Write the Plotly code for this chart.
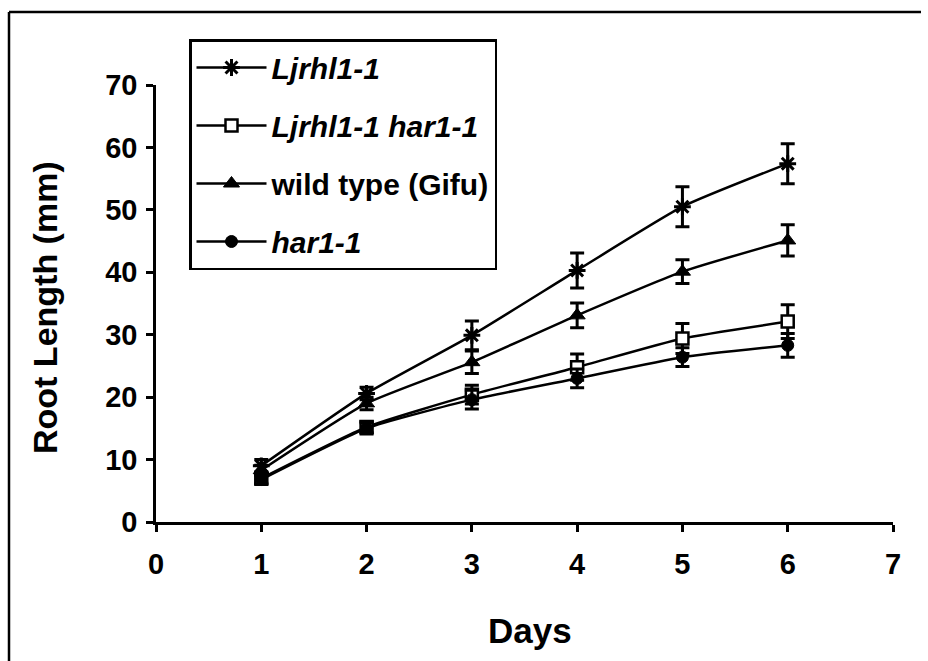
import plotly.graph_objects as go

days = [1, 2, 3, 4, 5, 6]
x_ticks = [0, 1, 2, 3, 4, 5, 6, 7]
y_ticks = [0, 10, 20, 30, 40, 50, 60, 70]

ljrhl = [9.0, 20.6, 29.9, 40.3, 50.5, 57.4]
ljrhl_err = [1.0, 1.0, 2.3, 2.8, 3.2, 3.2]
double = [7.0, 15.2, 20.4, 24.8, 29.4, 32.1]
double_err = [0.8, 0.9, 1.5, 2.1, 2.4, 2.7]
wt = [8.3, 19.0, 25.6, 33.1, 40.1, 45.1]
wt_err = [0.8, 1.0, 1.8, 2.0, 1.9, 2.5]
har = [6.8, 15.0, 19.6, 23.0, 26.4, 28.3]
har_err = [0.8, 0.9, 1.5, 1.5, 1.5, 1.9]

names = ["<i>Ljrhl1-1</i>", "<i>Ljrhl1-1 har1-1</i>", "wild type (Gifu)", "<i>har1-1</i>"]
series = [ljrhl, double, wt, har]
errors = [ljrhl_err, double_err, wt_err, har_err]
markers = [
    dict(symbol="asterisk-open", size=14, color="black", line=dict(color="black", width=3)),
    dict(symbol="square", size=12, color="white", line=dict(color="black", width=2.5)),
    dict(symbol="triangle-up", size=14, color="black", line=dict(color="black", width=1)),
    dict(symbol="circle", size=12, color="black", line=dict(color="black", width=1)),
]

FONT = "Liberation Sans, Arial, sans-serif"

fig = go.Figure()
for i, (nm, ys, es, mk) in enumerate(zip(names, series, errors, markers)):
    fig.add_trace(go.Scatter(
        x=days, y=ys, name=nm, mode="lines+markers",
        line=dict(color="black", width=2.5, shape="spline", smoothing=0.5),
        marker=mk,
        error_y=dict(type="data", array=es, visible=True, color="black", thickness=3, width=7),
        legendgroup=f"g{i}",
        cliponaxis=False,
    ))

L, R, T, B = 156, 35, 85, 139
W, H = 928, 661
pw = W - L - R
ph = H - T - B

def px(xp):
    return (xp - L) / pw

def py(yp):
    return (H - B - yp) / ph

fig.update_layout(
    width=W, height=H,
    margin=dict(l=L, r=R, t=T, b=B, autoexpand=False),
    paper_bgcolor="white", plot_bgcolor="white",
    font=dict(family=FONT, size=28, color="black", weight="bold"),
    showlegend=True,
    legend=dict(
        x=px(189), y=py(39), xanchor="left", yanchor="top",
        bordercolor="black", borderwidth=2.5, bgcolor="white",
        font=dict(family=FONT, size=30, color="black", weight="bold"),
        tracegroupgap=16, itemwidth=70,
    ),
    xaxis=dict(
        range=[0, 7], tickvals=x_ticks, ticktext=[str(v) for v in x_ticks],
        showline=True, linecolor="black", linewidth=2.5,
        ticks="outside", ticklen=7, tickwidth=2.5, tickcolor="black",
        showgrid=False, zeroline=False, ticklabelstandoff=7,
        tickfont=dict(size=29, family=FONT, weight="bold"),
    ),
    yaxis=dict(
        range=[0, 70], tickvals=y_ticks, ticktext=[str(v) for v in y_ticks],
        showline=True, linecolor="black", linewidth=2.5,
        ticks="outside", ticklen=7, tickwidth=2.5, tickcolor="black",
        showgrid=False, zeroline=False, ticklabelstandoff=3,
        tickfont=dict(size=29, family=FONT, weight="bold"),
    ),
    shapes=[
        dict(type="line", xref="paper", yref="paper",
             x0=px(9), x1=px(9), y0=py(12), y1=py(661),
             line=dict(color="black", width=2.5)),
        dict(type="line", xref="paper", yref="paper",
             x0=px(9), x1=px(921), y0=py(12), y1=py(12),
             line=dict(color="black", width=2.5)),
    ],
    annotations=[
        dict(text="Root Length (mm)", xref="paper", yref="paper",
             x=px(45), y=py(308), showarrow=False, textangle=-90,
             font=dict(size=34, family=FONT, weight="bold"),
             xanchor="center", yanchor="middle"),
        dict(text="Days", xref="paper", yref="paper",
             x=px(530), y=py(630), showarrow=False,
             font=dict(size=35, family=FONT, weight="bold"),
             xanchor="center", yanchor="middle"),
    ],
)

fig.write_html("out.html")
